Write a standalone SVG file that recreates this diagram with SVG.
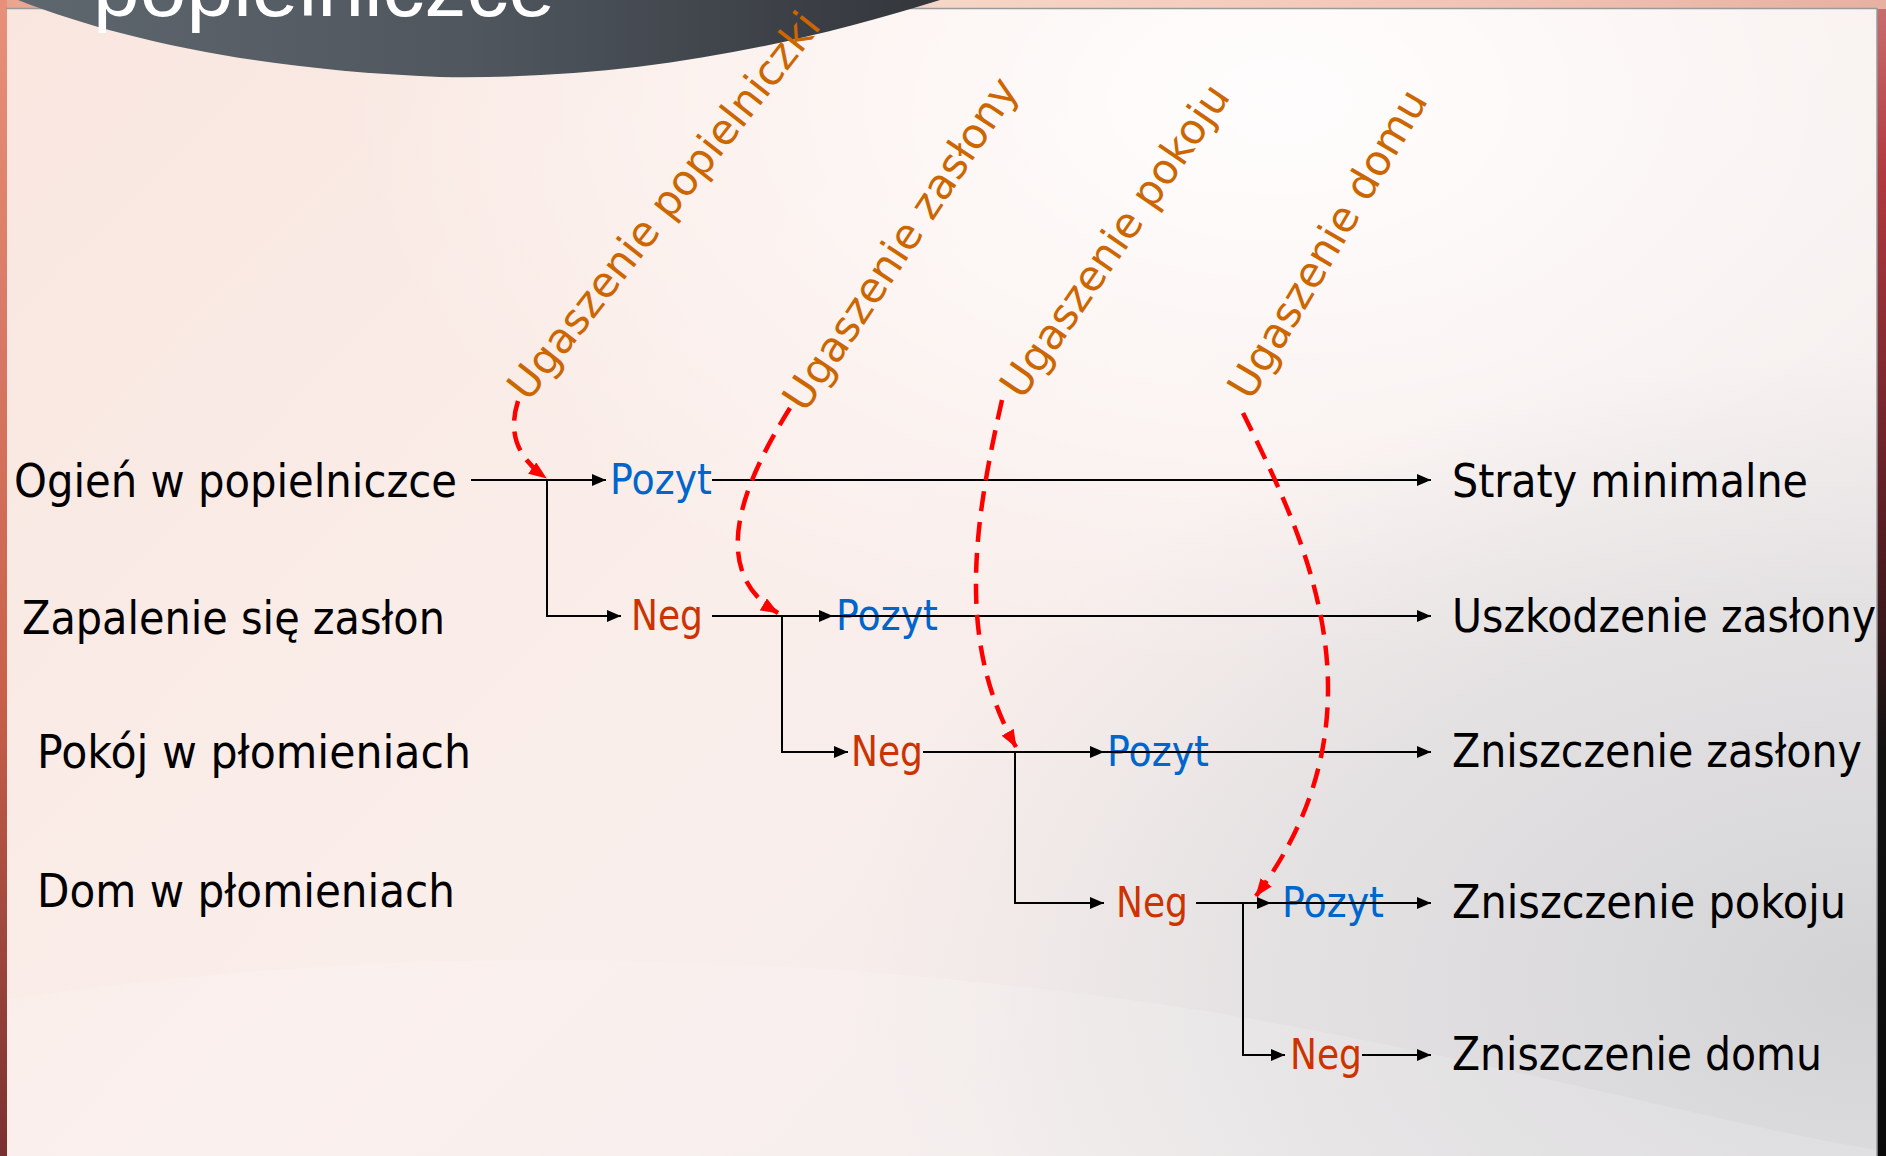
<svg xmlns="http://www.w3.org/2000/svg" width="1886" height="1156" viewBox="0 0 1886 1156">
  <defs>
    <linearGradient id="bgGrad" x1="0" y1="0" x2="1" y2="0.6">
      <stop offset="0" stop-color="#F9E6DF"/>
      <stop offset="0.5" stop-color="#FAEEEA"/>
      <stop offset="1" stop-color="#F2ECEC"/>
    </linearGradient>
    <radialGradient id="glow" cx="0.68" cy="0.08" r="0.5">
      <stop offset="0" stop-color="#FFFFFF" stop-opacity="0.9"/>
      <stop offset="1" stop-color="#FFFFFF" stop-opacity="0"/>
    </radialGradient>
    <radialGradient id="grayCorner" cx="1" cy="0.85" r="0.55">
      <stop offset="0" stop-color="#D2D2D5" stop-opacity="1"/>
      <stop offset="0.6" stop-color="#DADADC" stop-opacity="0.6"/>
      <stop offset="1" stop-color="#E0E0E2" stop-opacity="0"/>
    </radialGradient>
    <linearGradient id="bannerGrad" x1="0" y1="0" x2="1" y2="0">
      <stop offset="0" stop-color="#5E666E"/>
      <stop offset="0.5" stop-color="#4F565E"/>
      <stop offset="1" stop-color="#33363B"/>
    </linearGradient>
    <linearGradient id="leftStrip" x1="0" y1="0" x2="0" y2="1">
      <stop offset="0" stop-color="#E8907A"/>
      <stop offset="0.6" stop-color="#C8604A"/>
      <stop offset="1" stop-color="#7A3030"/>
    </linearGradient>
    <linearGradient id="rightStrip" x1="0" y1="0" x2="0" y2="1">
      <stop offset="0" stop-color="#C87070"/>
      <stop offset="0.15" stop-color="#B03A40"/>
      <stop offset="0.45" stop-color="#5A1E24"/>
      <stop offset="0.65" stop-color="#111111"/>
      <stop offset="1" stop-color="#0A0A0A"/>
    </linearGradient>
    <linearGradient id="topBand" x1="0" y1="0" x2="1" y2="0">
      <stop offset="0" stop-color="#E9A58F"/>
      <stop offset="0.5" stop-color="#F6D6C6"/>
      <stop offset="0.75" stop-color="#F3C7B8"/>
      <stop offset="1" stop-color="#E8B0A0"/>
    </linearGradient>
    <marker id="blackArrow" viewBox="0 0 14 12" refX="14" refY="6" markerWidth="14" markerHeight="12" markerUnits="userSpaceOnUse" orient="auto">
      <path d="M0,0 L14,6 L0,12 Z" fill="#000000"/>
    </marker>
    <marker id="redArrow" viewBox="0 0 18 14" refX="17" refY="7" markerWidth="18" markerHeight="14" markerUnits="userSpaceOnUse" orient="auto">
      <path d="M0,0 L18,7 L0,14 Z" fill="#FF0000"/>
    </marker>
    <style>
      .lbl { font-family: "DejaVu Sans", Verdana, sans-serif; font-size: 47px; fill: #000000; }
      .pos { font-family: "DejaVu Sans", Verdana, sans-serif; font-size: 42px; fill: #0066CC; }
      .neg { font-family: "DejaVu Sans", Verdana, sans-serif; font-size: 42px; fill: #CC3300; }
      .act { font-family: "DejaVu Sans", Verdana, sans-serif; font-size: 42px; fill: #CC6600; }
      .title { font-family: "Liberation Sans", Arial, sans-serif; font-size: 84px; fill: #FFFFFF; }
      .arr { fill: none; stroke: #000000; stroke-width: 2; marker-end: url(#blackArrow); }
      .dash { fill: none; stroke: #FF0000; stroke-width: 4.5; stroke-dasharray: 20 11; marker-end: url(#redArrow); }
    </style>
  </defs>

  <!-- background -->
  <g id="background">
    <rect x="0" y="0" width="1886" height="1156" fill="url(#rightStrip)"/>
    <rect x="0" y="0" width="1886" height="9" fill="url(#topBand)"/>
    <rect x="6" y="8" width="1871" height="1148" fill="url(#bgGrad)"/>
    <rect x="6" y="8" width="1871" height="1148" fill="url(#glow)"/>
    <rect x="6" y="8" width="1871" height="1148" fill="url(#grayCorner)"/>
    <path d="M6,1000 C 400,940 800,950 1200,1010 C 1500,1060 1700,1120 1877,1150 L1877,1156 L6,1156 Z" fill="#FFFFFF" opacity="0.15"/>
    <rect x="0" y="0" width="7" height="1156" fill="url(#leftStrip)"/>
    <line x1="6" y1="8.5" x2="1877" y2="8.5" stroke="#9A9A9A" stroke-width="1.5"/>
    <line x1="1877" y1="8" x2="1877" y2="1156" stroke="#9A9A9A" stroke-width="1.5"/>
    <path d="M18,0 C 120,40 260,70 440,77 C 620,80 780,50 940,0 Z" fill="url(#bannerGrad)"/>
    <text class="title" x="93" y="16">popielniczce</text>
  </g>

  <!-- row labels -->
  <g id="label-ogien"><text class="lbl" x="14" y="497" textLength="443" lengthAdjust="spacingAndGlyphs">Ogień w popielniczce</text></g>
  <g id="label-zapalenie"><text class="lbl" x="22" y="634" textLength="423" lengthAdjust="spacingAndGlyphs">Zapalenie się zasłon</text></g>
  <g id="label-pokoj"><text class="lbl" x="37" y="768" textLength="434" lengthAdjust="spacingAndGlyphs">Pokój w płomieniach</text></g>
  <g id="label-dom"><text class="lbl" x="37" y="907" textLength="418" lengthAdjust="spacingAndGlyphs">Dom w płomieniach</text></g>

  <!-- outcome labels -->
  <g id="out-straty"><text class="lbl" x="1452" y="497" textLength="356" lengthAdjust="spacingAndGlyphs">Straty minimalne</text></g>
  <g id="out-uszkodzenie"><text class="lbl" x="1452" y="632" textLength="424" lengthAdjust="spacingAndGlyphs">Uszkodzenie zasłony</text></g>
  <g id="out-zasl"><text class="lbl" x="1452" y="767" textLength="410" lengthAdjust="spacingAndGlyphs">Zniszczenie zasłony</text></g>
  <g id="out-pokoj"><text class="lbl" x="1452" y="918" textLength="394" lengthAdjust="spacingAndGlyphs">Zniszczenie pokoju</text></g>
  <g id="out-dom"><text class="lbl" x="1452" y="1070" textLength="370" lengthAdjust="spacingAndGlyphs">Zniszczenie domu</text></g>

  <!-- branch nodes -->
  <g id="pozyt-1"><text class="pos" x="610" y="494" textLength="102" lengthAdjust="spacingAndGlyphs">Pozyt</text></g>
  <g id="neg-1"><text class="neg" x="631" y="630" textLength="72" lengthAdjust="spacingAndGlyphs">Neg</text></g>
  <g id="pozyt-2"><text class="pos" x="836" y="630" textLength="102" lengthAdjust="spacingAndGlyphs">Pozyt</text></g>
  <g id="neg-2"><text class="neg" x="851" y="766" textLength="72" lengthAdjust="spacingAndGlyphs">Neg</text></g>
  <g id="pozyt-3"><text class="pos" x="1107" y="766" textLength="102" lengthAdjust="spacingAndGlyphs">Pozyt</text></g>
  <g id="neg-3"><text class="neg" x="1116" y="917" textLength="72" lengthAdjust="spacingAndGlyphs">Neg</text></g>
  <g id="pozyt-4"><text class="pos" x="1282" y="917" textLength="102" lengthAdjust="spacingAndGlyphs">Pozyt</text></g>
  <g id="neg-4"><text class="neg" x="1290" y="1069" textLength="72" lengthAdjust="spacingAndGlyphs">Neg</text></g>

  <!-- action labels -->
  <g id="act-popielniczki"><text class="act" transform="translate(528,403) rotate(-52)">Ugaszenie popielniczki</text></g>
  <g id="act-zaslony"><text class="act" transform="translate(805,414) rotate(-56.5)">Ugaszenie zasłony</text></g>
  <g id="act-pokoju"><text class="act" transform="translate(1022,401) rotate(-55.5)">Ugaszenie pokoju</text></g>
  <g id="act-domu"><text class="act" transform="translate(1251,402) rotate(-59.5)" font-size="41">Ugaszenie domu</text></g>

  <!-- connectors -->
  <g id="connectors">
    <path class="arr" d="M471,480 L606,480"/>
    <path class="arr" d="M712,480 L1431,480"/>
    <path class="arr" d="M547,480 L547,616 L621,616"/>
    <path class="arr" d="M712,616 L833,616"/>
    <path class="arr" d="M833,616 L1431,616"/>
    <path class="arr" d="M782,616 L782,752 L848,752"/>
    <path class="arr" d="M923,752 L1104,752"/>
    <path class="arr" d="M1104,752 L1431,752"/>
    <path class="arr" d="M1015,752 L1015,903 L1104,903"/>
    <path class="arr" d="M1196,903 L1271,903"/>
    <path class="arr" d="M1271,903 L1431,903"/>
    <path class="arr" d="M1243,903 L1243,1055 L1285,1055"/>
    <path class="arr" d="M1362,1055 L1431,1055"/>

    <path class="dash" d="M518,401 C 509,430 514,455 546,478"/>
    <path class="dash" d="M790,408 C 745,480 705,570 778,613"/>
    <path class="dash" d="M1002,400 C 975,520 955,640 1016,747"/>
    <path class="dash" d="M1243,413 C 1300,530 1395,710 1256,896"/>
  </g>
</svg>
